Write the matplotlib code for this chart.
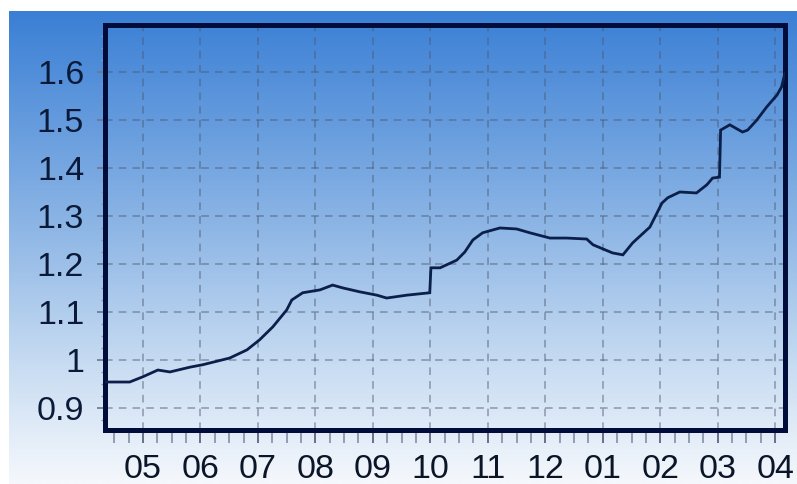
import numpy as np
import matplotlib
matplotlib.use("Agg")
import matplotlib.pyplot as plt
from matplotlib.colors import LinearSegmentedColormap
from matplotlib.ticker import FixedLocator, MultipleLocator, FormatStrFormatter

# month labels, one per tick (position 0 = "05")
month_labels = ["05", "06", "07", "08", "09", "10", "11", "12", "01", "02", "03", "04"]

# series: x in months from the "05" tick, y = index value
t = [-0.66, -0.49, -0.23, 0.0, 0.26, 0.47, 0.82, 1.04, 1.51, 1.81, 2.03, 2.26,
     2.50, 2.59, 2.78, 3.08, 3.30, 3.48, 3.77, 4.07, 4.24, 4.59, 4.99, 5.01,
     5.17, 5.46, 5.60, 5.74, 5.91, 6.21, 6.50, 6.73, 7.08, 7.37, 7.72, 7.83,
     8.17, 8.35, 8.52, 8.82, 9.03, 9.13, 9.34, 9.63, 9.81, 9.91, 10.03, 10.05,
     10.21, 10.43, 10.52, 10.68, 10.85, 11.03, 11.11, 11.17]
v = [0.954, 0.954, 0.954, 0.965, 0.979, 0.975, 0.985, 0.990, 1.004, 1.021, 1.042, 1.069,
     1.104, 1.125, 1.140, 1.146, 1.156, 1.150, 1.142, 1.135, 1.129, 1.135, 1.140, 1.192,
     1.192, 1.208, 1.225, 1.250, 1.265, 1.275, 1.273, 1.265, 1.254, 1.254, 1.252, 1.240,
     1.223, 1.219, 1.244, 1.277, 1.327, 1.338, 1.350, 1.348, 1.365, 1.379, 1.381, 1.479,
     1.490, 1.475, 1.479, 1.500, 1.527, 1.552, 1.569, 1.598]

y_ticks = [0.9, 1.0, 1.1, 1.2, 1.3, 1.4, 1.5, 1.6]

W, H = 797, 484
fig = plt.figure(figsize=(W / 100, H / 100), dpi=100, facecolor="white")

# blue-to-white backdrop
bg = fig.add_axes([9 / W, 0, (W - 9) / W, (H - 11) / H], zorder=-5)
cmap = LinearSegmentedColormap.from_list(
    "sky", [(0.0, "#3a7fd5"), (0.45, "#8cb5e5"), (0.75, "#c8dcf2"), (1.0, "#f5f8fc")])
bg.imshow(np.linspace(0, 1, 256).reshape(-1, 1), aspect="auto", cmap=cmap,
          extent=[0, 1, 0, 1])
bg.set_axis_off()

ax = fig.add_axes([105 / W, (H - 430) / H, 680 / W, 405 / H])
ax.set_facecolor("none")

ax.plot(t, v, color="#0b1f4a", lw=2.0, solid_joinstyle="miter", zorder=3)

ax.set_xlim(-0.66, 11.17)
ax.set_ylim(0.854, 1.698)

ax.xaxis.set_major_locator(FixedLocator(range(len(month_labels))))
ax.set_xticklabels(month_labels)
ax.xaxis.set_minor_locator(MultipleLocator(0.25))
ax.set_yticks(y_ticks)
ax.yaxis.set_major_formatter(FormatStrFormatter("%g"))
ax.yaxis.set_minor_locator(MultipleLocator(0.025))

ax.grid(True, which="major", linestyle=(0, (5, 4)), linewidth=1.1,
        color="#4a5870", alpha=0.55)

for s in ax.spines.values():
    s.set_linewidth(3.6)
    s.set_color("#000c3a")

tick_font = dict(family=["Liberation Sans", "DejaVu Sans"], size=24.5)
ax.tick_params(axis="x", which="major", direction="out", length=9, width=1.3,
               color="#5a6880", pad=8, labelcolor="#0a1528")
ax.tick_params(axis="x", which="minor", direction="out", length=9, width=1.1,
               color="#7a889e")
ax.tick_params(axis="y", which="major", direction="out", length=6, width=1.2,
               color="#6a7890", pad=9, labelcolor="#0a1a38")
ax.tick_params(axis="y", which="minor", direction="out", length=3, width=1,
               color="#8a98ac")
for lbl in ax.get_xticklabels() + ax.get_yticklabels():
    lbl.set_fontfamily(tick_font["family"])
    lbl.set_fontsize(tick_font["size"])

fig.savefig("out.png", dpi=100, facecolor=fig.get_facecolor())
